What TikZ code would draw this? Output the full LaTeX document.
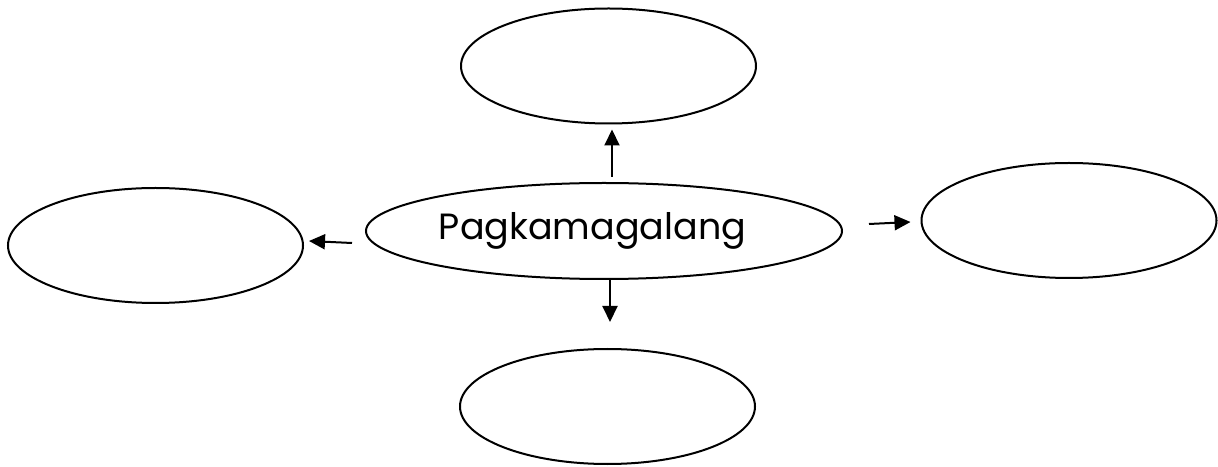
\documentclass[tikz,border=0pt]{standalone}
\usepackage{fontspec}
\setmainfont{Poppins}
\usetikzlibrary{shapes.geometric,arrows.meta}

\begin{document}
\begin{tikzpicture}[x=1pt,y=1pt]
\tikzset{Bubble/.style={ellipse,draw,line width=2pt,inner sep=0pt,minimum width=295pt,minimum height=115pt}}
\tikzset{MainBubble/.style={Bubble,minimum width=476pt,minimum height=96pt,font=\fontsize{36.5}{40}\selectfont}}
\tikzset{Link/.style={line width=2pt,-{Triangle[length=16pt,width=15pt]}}}
\useasboundingbox (0,0) rectangle (1218,466);
\node[MainBubble] (core) at (604,235) {\hspace*{-23pt}Pagkamagalang};
\node[Bubble] (up) at (608.5,400) {};
\node[Bubble] (west) at (155.5,220.5) {};
\node[Bubble] (east) at (1069,245.5) {};
\node[Bubble] (down) at (607.5,59.5) {};
\draw[Link] ([xshift=8pt,yshift=5pt]core.north) -- ([xshift=3.5pt,yshift=-5pt]up.south);
\draw[Link] ([xshift=-13pt,yshift=-12pt]core.west) -- ([xshift=5pt,yshift=4.5pt]west.east);
\draw[Link] ([xshift=26pt,yshift=7pt]core.east) -- ([xshift=-10pt,yshift=-1.5pt]east.west);
\draw[Link] ([xshift=6pt]core.south) -- ([xshift=2.5pt,yshift=26pt]down.north);
\end{tikzpicture}
\end{document}
